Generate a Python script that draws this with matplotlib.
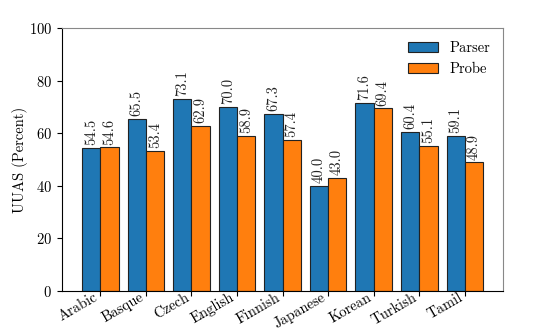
import matplotlib
matplotlib.use("Agg")
import matplotlib.pyplot as plt
import numpy as np

languages = ["Arabic", "Basque", "Czech", "English", "Finnish", "Japanese", "Korean", "Turkish", "Tamil"]
parser = [54.5, 65.5, 73.1, 70.0, 67.3, 40.0, 71.6, 60.4, 59.1]
probe = [54.6, 53.4, 62.9, 58.9, 57.4, 43.0, 69.4, 55.1, 48.9]

plt.rcParams['font.family'] = 'cmr10'
plt.rcParams['axes.formatter.use_mathtext'] = True
plt.rcParams['mathtext.fontset'] = 'cm'

fig = plt.figure(figsize=(5.41, 3.29), dpi=100)
ax = fig.add_axes([0.1146, 0.1155, 0.8154, 0.7995])
x = np.arange(len(languages))
w = 0.4
b1 = ax.bar(x - w/2, parser, w, color='#1f77b4', edgecolor='#222222', linewidth=0.8, label='Parser')
b2 = ax.bar(x + w/2, probe, w, color='#ff7f0e', edgecolor='#222222', linewidth=0.8, label='Probe')
for bars, vals in ((b1, parser), (b2, probe)):
    for r, v in zip(bars, vals):
        ax.text(r.get_x() + r.get_width()/2, v + 1.0, f"{v:.1f}", rotation=90,
                ha='center', va='bottom', fontsize=10.5, color='#222222')
ax.set_ylim(0, 100)
ax.set_xticks(x)
ax.set_xticklabels(languages, rotation=30, ha='right', fontsize=10.5)
ax.tick_params(axis='x', pad=-4)
ax.tick_params(axis='y', labelsize=10.5)
ax.set_ylabel("UUAS (Percent)", fontsize=10.5, labelpad=1)
for s in ('top', 'right'):
    ax.spines[s].set_color('#888888')
ax.legend(frameon=False, loc='upper right', fontsize=10.5)
fig.savefig("out.png", dpi=100)
